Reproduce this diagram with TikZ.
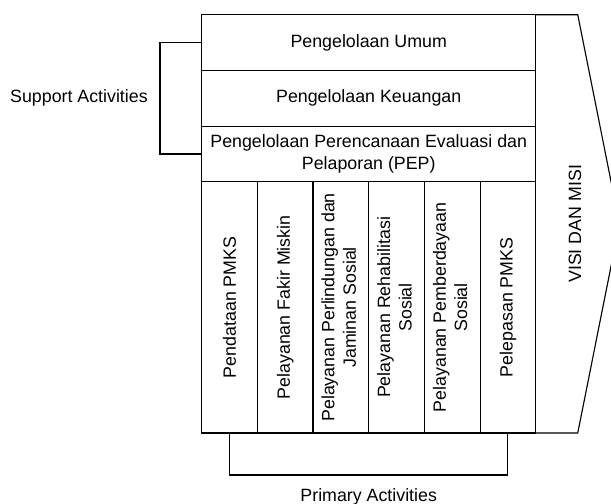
\documentclass[tikz,border=0pt]{standalone}
\usepackage{fontspec}
\setmainfont{Liberation Sans}
\usepackage{graphicx}
\usetikzlibrary{positioning,calc}

\begin{document}
\begin{tikzpicture}[
              font=\fontsize{12.66}{15.2}\selectfont,
              x=1cm,
              y=1cm,
              line/.style={draw=black, line width=0.8pt},
              support/.style={line, minimum width=8.35cm, minimum height=1.3925cm, inner sep=0pt, outer sep=0pt, align=center, anchor=north west},
              primary/.style={line, minimum width=1.3917cm, minimum height=6.28cm, inner sep=0pt, outer sep=0pt, anchor=north west},
              label/.style={inner sep=0pt}
            ]
            \useasboundingbox (0,0) rectangle (15.275,12.575);

            \node[support] (umum) at (5.043,12.2075) {Pengelolaan Umum};
            \node[support] (keuangan) at (umum.south west) {Pengelolaan Keuangan};
            \node[support] (pep) at (keuangan.south west) {
              Pengelolaan Perencanaan Evaluasi dan\\
              Pelaporan (PEP)
            };

            \node[primary] (pendataan) at (pep.south west) {\rotatebox{90}{Pendataan PMKS}};
            \node[primary] (fakir) at (pendataan.north east) {\rotatebox{90}{Pelayanan Fakir Miskin}};
            \node[primary] (perlindungan) at (fakir.north east) {\rotatebox{90}{\begin{tabular}{@{}c@{}}
              Pelayanan Perlindungan dan\\
              Jaminan Sosial
            \end{tabular}}};
            \node[primary] (rehab) at (perlindungan.north east) {\rotatebox{90}{\begin{tabular}{@{}c@{}}
              Pelayanan Rehabilitasi\\
              Sosial
            \end{tabular}}};
            \node[primary] (berdaya) at (rehab.north east) {\rotatebox{90}{\begin{tabular}{@{}c@{}}
              Pelayanan Pemberdayaan\\
              Sosial
            \end{tabular}}};
            \node[primary] (pelepasan) at (berdaya.north east) {\rotatebox{90}{Pelepasan PMKS}};

            % vision / mission arrow
            \coordinate (visitop) at ($(umum.north east)+(1.05,0)$);
            \coordinate (visibot) at ($(pelepasan.south east)+(1.05,0)$);
            \coordinate (visitip) at ($(visitop)!0.5!(visibot)+(1.045,0)$);
            \draw[line] (umum.north east) -- (visitop) -- (visitip) -- (visibot) -- (pelepasan.south east);
            \node[label] (visi) at ($(umum.north east)!0.5!(pelepasan.south east)+(0.98,0)$) {\rotatebox{90}{VISI DAN MISI}};

            % brackets
            \coordinate (suppmid) at ($(umum.west)!0.5!(pep.west)+(-1.043,0)$);
            \draw[line] (umum.west) -- ++(-1.043,0) |- (pep.west);
            \node[label, left=0.3cm of suppmid] (supportact) {Support Activities};

            \coordinate (primmid) at ($(pendataan.south)!0.5!(pelepasan.south)+(0,-1.7125)$);
            \draw[line] (pendataan.south) -- ++(0,-1.05) -| (pelepasan.south);
            \node[label, anchor=base] (primaryact) at (primmid) {Primary Activities};
            \end{tikzpicture}
\end{document}
